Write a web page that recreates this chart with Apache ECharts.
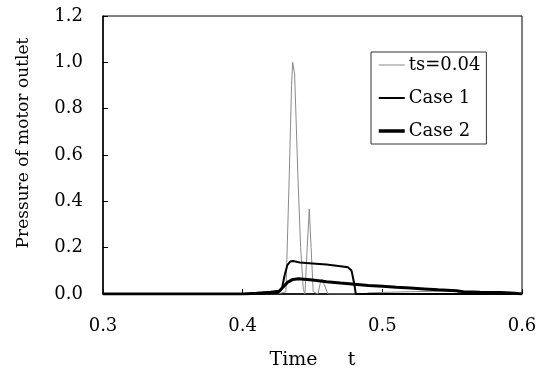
<!DOCTYPE html>
<html>
<head>
<meta charset="utf-8">
<script src="https://cdn.jsdelivr.net/npm/echarts@6/dist/echarts.min.js"></script>
<style>html,body{margin:0;padding:0;background:#fff}#c{width:538px;height:374px}</style>
</head>
<body>
<div id="c"></div>
<script>
var seriesNames = ['ts=0.04', 'Case 1', 'Case 2'];
var xTicks = [0.3, 0.4, 0.5, 0.6];
var yTicks = [0.0, 0.2, 0.4, 0.6, 0.8, 1.0, 1.2];

var tsTime = [0.30, 0.425, 0.431, 0.4333, 0.4350, 0.4358, 0.4372, 0.4396, 0.4415, 0.4434, 0.4446, 0.4462, 0.4477, 0.4490, 0.4505, 0.4539, 0.4555, 0.4568, 0.4585, 0.461, 0.488, 0.49, 0.52, 0.553, 0.556, 0.60];
var tsVal  = [0.0, 0.0, 0.01, 0.5, 0.9, 1.0, 0.95, 0.5, 0.2, 0.02, 0.0, 0.2, 0.367, 0.2, 0.01, 0.0, 0.045, 0.065, 0.04, 0.0, 0.0, 0.005, 0.01, 0.013, 0.0, 0.0];

var case1Time = [0.30, 0.41, 0.425, 0.428, 0.430, 0.432, 0.434, 0.436, 0.441, 0.450, 0.460, 0.470, 0.4755, 0.478, 0.480, 0.481, 0.60];
var case1Val  = [0.0, 0.0, 0.003, 0.02, 0.08, 0.125, 0.14, 0.142, 0.136, 0.132, 0.127, 0.12, 0.115, 0.1, 0.04, 0.0, 0.0];

var case2Time = [0.30, 0.40, 0.41, 0.42, 0.426, 0.429, 0.432, 0.436, 0.440, 0.450, 0.460, 0.470, 0.480, 0.490, 0.500, 0.510, 0.520, 0.530, 0.540, 0.553, 0.558, 0.570, 0.585, 0.595, 0.60];
var case2Val  = [0.0, 0.0, 0.003, 0.008, 0.012, 0.03, 0.05, 0.063, 0.066, 0.06, 0.053, 0.047, 0.042, 0.037, 0.033, 0.029, 0.026, 0.022, 0.018, 0.014, 0.01, 0.008, 0.007, 0.003, 0.0];

function pairs(t, v) { return t.map(function (x, i) { return [x, v[i]]; }); }

var FONT = 'DejaVu Serif';
var chart = echarts.init(document.getElementById('c'), null, { renderer: 'canvas' });
chart.setOption({
  animation: false,
  backgroundColor: '#fff',
  textStyle: { fontFamily: FONT, color: '#000' },
  grid: { left: 103, right: 16, top: 16, bottom: 80, show: true, borderColor: '#000', borderWidth: 1,
          containLabel: false, outerBoundsMode: 'none' },
  legend: {
    orient: 'vertical', left: 371, top: 52,
    data: [
      { name: seriesNames[0], lineStyle: { width: 1, color: '#8a8a8a' } },
      { name: seriesNames[1], lineStyle: { width: 2, color: '#000' } },
      { name: seriesNames[2], lineStyle: { width: 3.5, color: '#000' } }
    ],
    padding: [4, 6, 4, 6],
    itemWidth: 26, itemHeight: 14, itemGap: 15,
    borderColor: '#333', borderWidth: 1,
    itemStyle: { color: 'transparent', borderWidth: 0, opacity: 0 },
    textStyle: { fontFamily: FONT, fontSize: 18, color: '#000', padding: [0, 0, 0, -1] }
  },
  xAxis: {
    type: 'value', min: xTicks[0], max: xTicks[xTicks.length - 1], interval: 0.1,
    name: 'Time     t', nameLocation: 'middle', nameGap: 57,
    nameTextStyle: { fontFamily: FONT, fontSize: 19, color: '#000' },
    axisLine: { lineStyle: { color: '#000', width: 1.5 } },
    axisTick: { inside: true, length: 5, lineStyle: { color: '#000' } },
    axisLabel: { fontFamily: FONT, fontSize: 18, color: '#000', margin: 23, formatter: function (v) { return v.toFixed(1); } },
    splitLine: { show: false }
  },
  yAxis: {
    type: 'value', min: yTicks[0], max: yTicks[yTicks.length - 1], interval: 0.2,
    name: 'Pressure of motor outlet', nameLocation: 'middle', nameGap: 71,
    nameTextStyle: { fontFamily: FONT, fontSize: 17, color: '#000', padding: [0, 0, 0, 24] },
    axisLine: { lineStyle: { color: '#000', width: 1.5 } },
    axisTick: { inside: true, length: 5, lineStyle: { color: '#000' } },
    axisLabel: { fontFamily: FONT, fontSize: 18, color: '#000', margin: 20, formatter: function (v) { return v.toFixed(1); } },
    splitLine: { show: false }
  },
  series: [
    { name: seriesNames[0], type: 'line', data: pairs(tsTime, tsVal), showSymbol: false, symbol: 'none',
      lineStyle: { color: '#8a8a8a', width: 1 }, itemStyle: { color: '#8a8a8a' }, z: 3 },
    { name: seriesNames[1], type: 'line', data: pairs(case1Time, case1Val), showSymbol: false, symbol: 'none',
      lineStyle: { color: '#000', width: 2 }, itemStyle: { color: '#000' }, z: 4 },
    { name: seriesNames[2], type: 'line', data: pairs(case2Time, case2Val), showSymbol: false, symbol: 'none',
      lineStyle: { color: '#000', width: 3 }, itemStyle: { color: '#000' }, z: 5 }
  ]
});
</script>
</body>
</html>
